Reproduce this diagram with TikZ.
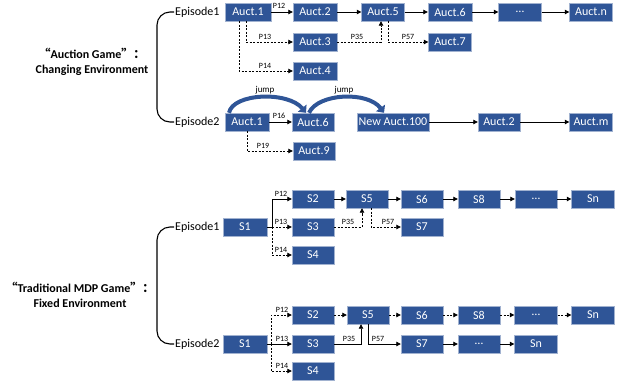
\documentclass[tikz,border=0pt]{standalone}
\usepackage{fontspec}
\setmainfont{Carlito}
\newfontfamily\cjk{Noto Sans CJK SC}
\usetikzlibrary{arrows.meta}
\definecolor{boxblue}{HTML}{2F5597}
\tikzset{
  box/.style={fill=boxblue, draw=white!55!boxblue, line width=0.4pt, text=white,
    minimum height=18pt, inner sep=0pt, font=\fontsize{12}{14}\selectfont},
  ep/.style={font=\fontsize{12}{14}\selectfont, inner sep=1pt},
  lbl/.style={font=\fontsize{8}{9}\selectfont, inner sep=0pt},
  conn/.style={line width=0.8pt, -{Triangle[width=4.5pt,length=4.5pt]}},
  dconn/.style={conn, dash pattern=on 2pt off 1.5pt},
  brace/.style={line width=1.1pt, rounded corners=13pt},
  jumparrow/.style={line width=4pt, draw=boxblue, -{Triangle[width=11pt,length=6pt]}},
  title/.style={font=\bfseries\fontsize{12}{15}\selectfont, align=center, inner sep=0pt}
}
\begin{document}
\begin{tikzpicture}[x=1pt,y=-1pt]
\useasboundingbox (0,0) rectangle (628,381);

% ---------- Titles ----------
\node[title] (t1) at (92,62) {{\cjk “}Auction Game{\cjk ”：}\\Changing Environment};
\node[title] (t2) at (80,295) {{\cjk “}Traditional MDP Game{\cjk ”：}\\Fixed Environment};

% ---------- Auction game, Episode1 ----------
\node[ep, anchor=west] (E1) at (174,12) {Episode1};
\node[box, minimum width=46pt] (A1) at (248,12) {Auct.1};
\node[box, minimum width=44pt] (A2) at (315,12) {Auct.2};
\node[box, minimum width=43pt] (A5) at (383,12) {Auct.5};
\node[box, minimum width=44pt] (A6) at (450,12) {Auct.6};
\node[box, minimum width=43pt] (Ad) at (520,12) {…};
\node[box, minimum width=43pt] (An) at (591,12) {Auct.n};
\node[box, minimum width=44pt] (A3) at (315,42) {Auct.3};
\node[box, minimum width=43pt] (A7) at (450,42) {Auct.7};
\node[box, minimum width=44pt] (A4) at (315,71) {Auct.4};

\draw[conn] (A1) -- (A2);
\draw[conn] (A2) -- (A5);
\draw[conn] (A5) -- (A6);
\draw[conn] (A6) -- (Ad);
\draw[conn] (Ad) -- (An);
\draw[dconn] ([xshift=-9pt]A1.south) |- (A4.west);
\draw[dconn] ([xshift=-2pt]A1.south) |- (A3.west);
\draw[dconn] (A3.east) -| ([xshift=-2pt]A5.south);
\draw[dconn] ([xshift=5pt]A5.south) |- (A7.west);
\node[lbl] (lA12) at (279,6) {P12};
\node[lbl] (lA13) at (265,37) {P13};
\node[lbl] (lA14) at (265,66) {P14};
\node[lbl] (lA35) at (357,37) {P35};
\node[lbl] (lA57) at (408,37) {P57};

% ---------- Auction game, Episode2 ----------
\node[ep, anchor=west] (E2) at (174,122) {Episode2};
\node[box, minimum width=44pt] (B1) at (247,122) {Auct.1};
\node[box, minimum width=42pt] (B6) at (313,122) {Auct.6};
\node[box, minimum width=72pt] (B100) at (393,122) {New Auct.100};
\node[box, minimum width=42pt] (B2) at (499,122) {Auct.2};
\node[box, minimum width=43pt] (Bm) at (591,122) {Auct.m};
\node[box, minimum width=42pt] (B9) at (314,151) {Auct.9};

\draw[conn] (B1) -- (B6);
\draw[conn] (B100) -- (B2);
\draw[conn] (B2) -- (Bm);
\draw[dconn] (B1.south) |- (B9.west);
\node[lbl] (lB16) at (279,116) {P16};
\node[lbl] (lB19) at (263,146) {P19};
\draw[jumparrow] ([xshift=-18pt]B1.north) .. controls (233,93) and (288,91) .. ([xshift=-7pt]B6.north);
\draw[jumparrow] ([xshift=-4pt]B6.north) .. controls (318,93) and (368,91) .. ([xshift=-9pt]B100.north);
\node[font=\fontsize{9}{10}\selectfont, inner sep=0pt] (j1) at (265,90) {jump};
\node[font=\fontsize{9}{10}\selectfont, inner sep=0pt] (j2) at (344,90) {jump};

\draw[brace] (E1.west) -- (157,12) -- (157,122) -- (E2.west);

% ---------- MDP game, Episode1 ----------
\node[ep, anchor=west] (F1) at (174,227) {Episode1};
\node[box, minimum width=44pt] (S1) at (245,227) {S1};
\node[box, minimum width=42pt] (S2) at (313,199) {S2};
\node[box, minimum width=42pt] (S3) at (313,227) {S3};
\node[box, minimum width=42pt] (S4) at (313,255) {S4};
\node[box, minimum width=42pt] (S5) at (367,199) {S5};
\node[box, minimum width=42pt] (S6) at (422,199) {S6};
\node[box, minimum width=42pt] (S8) at (479,199) {S8};
\node[box, minimum width=42pt] (Sd) at (536,199) {…};
\node[box, minimum width=43pt] (Sn) at (593,199) {Sn};
\node[box, minimum width=42pt] (S7) at (422,227) {S7};

\draw[line width=0.8pt] (S1.east) -- ++(5,0) coordinate (s1j);
\draw[conn] (s1j) |- (S2.west);
\draw[dconn] (s1j) -- (S3.west);
\draw[dconn] (s1j) |- (S4.west);
\draw[conn] (S2) -- (S5);
\draw[conn] (S5) -- (S6);
\draw[conn] (S6) -- (S8);
\draw[conn] (S8) -- (Sd);
\draw[conn] (Sd) -- (Sn);
\draw[dconn] (S3.east) -| ([xshift=-5pt]S5.south);
\draw[dconn] ([xshift=4pt]S5.south) |- (S7.west);
\node[lbl] (lS12) at (281,194) {P12};
\node[lbl] (lS13) at (281,222) {P13};
\node[lbl] (lS14) at (281,250) {P14};
\node[lbl] (lS35) at (348,222) {P35};
\node[lbl] (lS57) at (388,222) {P57};

% ---------- MDP game, Episode2 ----------
\node[ep, anchor=west] (F2) at (174,344) {Episode2};
\node[box, minimum width=44pt] (T1) at (245,344) {S1};
\node[box, minimum width=42pt] (T2) at (313,315) {S2};
\node[box, minimum width=42pt] (T3) at (313,344) {S3};
\node[box, minimum width=42pt] (T4) at (313,371) {S4};
\node[box, minimum width=42pt] (T5) at (368,315) {S5};
\node[box, minimum width=42pt] (T6) at (422,315) {S6};
\node[box, minimum width=42pt] (T8) at (479,315) {S8};
\node[box, minimum width=43pt] (Td) at (536,315) {…};
\node[box, minimum width=43pt] (Tn) at (593,315) {Sn};
\node[box, minimum width=42pt] (T7) at (422,344) {S7};
\node[box, minimum width=42pt] (Td2) at (479,344) {…};
\node[box, minimum width=43pt] (Tn2) at (536,344) {Sn};

\draw[conn] (T1) -- (T3);
\path (T1.east) -- ++(4,0) coordinate (t1j);
\draw[dconn] (t1j) |- (T2.west);
\draw[dconn] (t1j) |- (T4.west);
\draw[dconn] (T2) -- (T5);
\draw[dconn] (T5) -- (T6);
\draw[dconn] (T6) -- (T8);
\draw[dconn] (T8) -- (Td);
\draw[dconn] (Td) -- (Tn);
\draw[conn] (T3.east) -| ([xshift=-7pt]T5.south);
\draw[conn] ([xshift=0pt]T5.south) |- (T7.west);
\draw[conn] (T7) -- (Td2);
\draw[conn] (Td2) -- (Tn2);
\node[lbl] (lT12) at (282,310) {P12};
\node[lbl] (lT13) at (282,339) {P13};
\node[lbl] (lT14) at (282,366) {P14};
\node[lbl] (lT35) at (349,339) {P35};
\node[lbl] (lT57) at (378,339) {P57};

\draw[brace] (F1.west) -- (157,227) -- (157,344) -- (F2.west);
\end{tikzpicture}
\end{document}
